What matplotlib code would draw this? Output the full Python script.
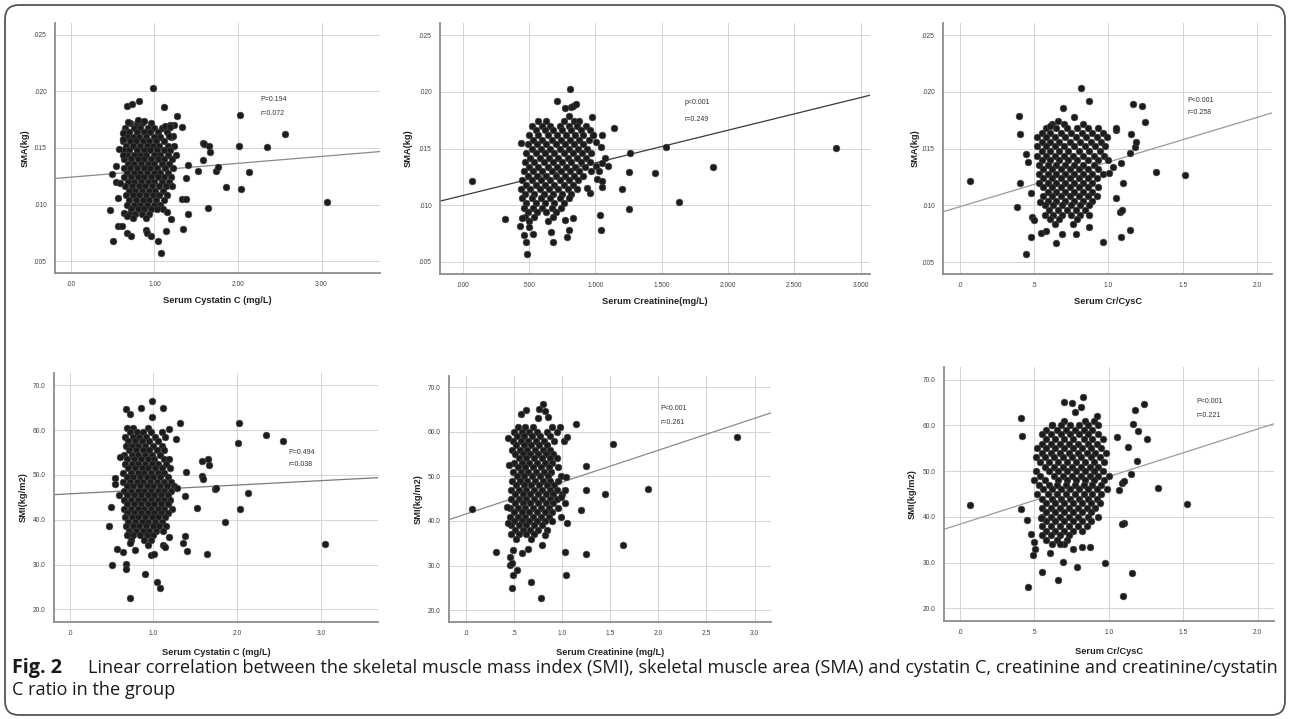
import numpy as np
import matplotlib.pyplot as plt
from matplotlib.patches import FancyBboxPatch
from matplotlib.transforms import IdentityTransform

# ===== data =====
# dense part of each cloud: (y, [x, ...]) ; scattered points: (x, y)

# --- SMA vs serum cystatin C ---
cys_sma_rows = [
    (.0172, [.71, .79, .85, .96]),
    (.0168, [.65, .75, .83, .92, 1.00, 1.09]),
    (.0164, [.63, .70, .79, .87, .95, 1.04, 1.15]),
    (.0160, [.67, .74, .82, .90, .99, 1.07, 1.20]),
    (.0156, [.62, .71, .78, .86, .94, 1.02, 1.11]),
    (.0152, [.66, .74, .83, .91, .98, 1.06, 1.16, 1.23]),
    (.0148, [.63, .70, .79, .87, .95, 1.03, 1.12, 1.19]),
    (.0144, [.67, .75, .83, .90, .99, 1.07, 1.16, 1.26]),
    (.0140, [.64, .72, .80, .88, .96, 1.04, 1.12, 1.21]),
    (.0136, [.68, .76, .84, .92, 1.00, 1.09, 1.17]),
    (.0132, [.63, .71, .79, .87, .95, 1.03, 1.13, 1.22]),
    (.0128, [.67, .75, .83, .91, .99, 1.07, 1.16]),
    (.0124, [.64, .72, .80, .88, .96, 1.04, 1.12, 1.20]),
    (.0120, [.68, .76, .84, .92, 1.00, 1.09, 1.18]),
    (.0116, [.65, .73, .81, .89, .97, 1.05, 1.14, 1.21]),
    (.0112, [.69, .77, .85, .93, 1.01, 1.10]),
    (.0108, [.66, .74, .82, .90, .98, 1.06, 1.15]),
    (.0104, [.70, .78, .86, .94, 1.02, 1.11]),
    (.0100, [.67, .75, .83, .91, .99, 1.07]),
    (.0096, [.72, .80, .88, .96, 1.03]),
    (.0092, [.69, .77, .85, .93]),
    (.0088, [.74, .90]),
]
cys_sma_out = [
    (0.987, .02033), (0.676, .01871), (0.736, .01892), (0.82, .01918), (1.114, .01859),
    (1.273, .01779), (1.325, .01682), (1.233, .0170), (1.126, .01697), (1.19, .0170),
    (1.58, .0154), (1.596, .01534), (1.65, .01517), (1.666, .01463), (1.58, .01392),
    (1.524, .01295), (1.735, .01298), (1.76, .01333), (1.397, .01348), (1.38, .01236),
    (1.326, .0105), (1.376, .01047), (1.405, .00917), (1.345, .00781), (1.643, .00973),
    (1.862, .01156), (2.041, .01141), (2.133, .01289), (2.01, .01517), (2.03, .01788),
    (2.352, .01508), (2.559, .01626), (3.064, .01023), (0.47, .00955), (0.505, .00678),
    (0.561, .00811), (0.609, .00814), (0.676, .00752), (0.72, .00722), (0.895, .00778),
    (0.915, .00752), (0.963, .00722), (1.043, .00678), (1.082, .00574), (1.134, .0077),
    (1.194, .00873), (1.098, .00958), (1.146, .00935), (0.633, .00926), (0.67, .00896),
    (0.49, .01274), (0.545, .01342), (0.537, .0120), (0.589, .01194), (0.629, .0144),
    (0.629, .01635), (0.625, .01576), (0.688, .01729), (1.226, .01608), (1.174, .01602),
    (1.19, .01688), (0.80, .01745), (0.88, .01738), (0.58, .01490), (0.57, .01060),
]

# --- SMA vs serum creatinine ---
cr_sma_rows = [
    (.0174, [.57, .63, .76, .84, .88]),
    (.0170, [.52, .60, .66, .73, .80, .86, .93]),
    (.0166, [.55, .62, .68, .75, .82, .89, .96]),
    (.0162, [.50, .57, .64, .71, .78, .85, .91, .98]),
    (.0158, [.53, .60, .67, .74, .81, .88, .95]),
    (.0154, [.49, .56, .63, .70, .77, .84, .91]),
    (.0150, [.52, .59, .66, .73, .80, .87, .94]),
    (.0146, [.48, .55, .62, .69, .76, .83, .90, .97]),
    (.0142, [.51, .58, .65, .72, .79, .86, .93]),
    (.0138, [.47, .54, .61, .68, .75, .82, .89, .96]),
    (.0134, [.50, .57, .64, .71, .78, .85, .92]),
    (.0130, [.46, .53, .60, .67, .74, .81, .88]),
    (.0126, [.49, .56, .63, .70, .77, .84, .91]),
    (.0122, [.45, .52, .59, .66, .73, .80, .87]),
    (.0118, [.48, .55, .62, .69, .76, .83]),
    (.0114, [.44, .51, .58, .65, .72, .79, .86]),
    (.0110, [.47, .54, .61, .68, .75, .82]),
    (.0106, [.45, .52, .59, .66, .73, .80]),
    (.0102, [.48, .55, .62, .69, .76]),
    (.0098, [.46, .53, .60, .67, .74]),
    (.0094, [.49, .56, .63, .70]),
    (.0090, [.47, .54, .68]),
    (.0086, [.50, .64]),
]
cr_sma_out = [
    (.073, .01216), (.322, .00878), (.44, .01553), (.432, .00817), (.45, .00887),
    (.463, .00741), (.48, .00676), (.487, .00573), (.497, .00805), (.533, .00744),
    (.678, .00676), (.663, .00764), (.774, .00872), (.80, .00784), (.784, .00723),
    (.834, .00884), (.80, .01784), (.813, .01864), (.808, .02025), (.714, .01916),
    (.771, .01855), (.829, .01875), (.852, .0189), (.975, .01776), (1.143, .01679),
    (1.048, .0162), (.982, .0162), (1.005, .01562), (1.043, .01518), (1.07, .01415),
    (1.093, .0135), (1.048, .01371), (1.005, .0135), (1.03, .0130), (.967, .0130),
    (1.01, .0123), (1.048, .0121), (1.05, .01157), (.96, .01107), (.935, .01151),
    (1.035, .00911), (1.045, .00785), (1.20, .01142), (1.25, .01292), (1.26, .01459),
    (1.25, .00969), (1.45, .01283), (1.53, .01518), (1.628, .01025), (1.884, .01336),
    (2.81, .01506),
]

# --- SMA vs serum Cr/CysC ---
ratio_sma_rows = [
    (.0172, [.62, .70, .83]),
    (.0168, [.58, .65, .72, .79, .86, .93]),
    (.0164, [.55, .61, .68, .75, .82, .89, .96]),
    (.0160, [.52, .58, .64, .71, .78, .85, .92, .99]),
    (.0156, [.55, .61, .67, .74, .81, .88, .95]),
    (.0152, [.52, .58, .64, .70, .77, .84, .91, .98]),
    (.0148, [.55, .61, .67, .73, .80, .87, .94]),
    (.0144, [.52, .58, .64, .70, .76, .83, .90, .97]),
    (.0140, [.55, .61, .67, .73, .79, .86, .93, 1.00]),
    (.0136, [.53, .59, .65, .71, .77, .83, .90]),
    (.0132, [.56, .62, .68, .74, .80, .86, .93]),
    (.0128, [.53, .59, .65, .71, .77, .83, .89, .96]),
    (.0124, [.56, .62, .68, .74, .80, .86, .92]),
    (.0120, [.53, .59, .65, .71, .77, .83, .89]),
    (.0116, [.56, .62, .68, .74, .80, .86, .93]),
    (.0112, [.59, .65, .71, .77, .83, .89]),
    (.0108, [.56, .62, .68, .74, .80, .86, .92]),
    (.0104, [.59, .65, .71, .77, .83, .89]),
    (.0100, [.57, .63, .69, .75, .81, .87]),
    (.0096, [.60, .66, .72, .78, .84]),
    (.0092, [.57, .63, .69, .75, .81, .87]),
    (.0088, [.61, .67, .79]),
    (.0084, [.64, .76]),
]
ratio_sma_out = [
    (.067, .01216), (.401, .01787), (.408, .01626), (.404, .01195), (.383, .0099),
    (.448, .01453), (.457, .01386), (.48, .01107), (.482, .0072), (.448, .00573),
    (.487, .00896), (.498, .00873), (.538, .01033), (.545, .00761), (.583, .00779),
    (.648, .0067), (.686, .00747), (.782, .00745), (.87, .00814), (.96, .00676),
    (1.081, .0072), (1.143, .00784), (1.076, .00943), (1.094, .0096), (1.054, .01063),
    (1.099, .01201), (1.085, .01371), (1.031, .01342), (1.002, .01289), (1.143, .01459),
    (1.179, .01518), (1.15, .01629), (1.188, .01562), (1.049, .01664), (1.049, .01685),
    (1.166, .01896), (1.226, .01875), (1.247, .01732), (1.321, .01298), (1.513, .01268),
    (.818, .02031), (.87, .01917), (.693, .01861), (.661, .01744), (.605, .01699),
    (.767, .01776),
]

# --- SMI vs serum cystatin C ---
cys_smi_rows = [
    (60.5, [.68, .76, .93]),
    (59.5, [.72, .80, .88, .97, 1.10]),
    (58.5, [.66, .75, .83, .91, 1.02, 1.14]),
    (57.5, [.70, .78, .86, .95, 1.06]),
    (56.5, [.67, .74, .82, .90, .99, 1.10]),
    (55.5, [.71, .79, .87, .95, 1.04, 1.12]),
    (54.5, [.65, .74, .82, .90, .98, 1.08]),
    (53.5, [.69, .77, .85, .93, 1.01, 1.12, 1.18]),
    (52.5, [.66, .74, .82, .90, .98, 1.06, 1.15]),
    (51.5, [.70, .78, .86, .94, 1.02, 1.10, 1.20]),
    (50.5, [.64, .73, .81, .89, .97, 1.05, 1.13]),
    (49.5, [.68, .76, .84, .92, 1.00, 1.08, 1.17]),
    (48.5, [.64, .72, .80, .88, .96, 1.04, 1.12, 1.21]),
    (47.5, [.68, .76, .84, .92, 1.00, 1.08, 1.16, 1.24]),
    (46.5, [.65, .73, .81, .89, .97, 1.05, 1.13, 1.21]),
    (45.5, [.69, .77, .85, .93, 1.01, 1.09, 1.17]),
    (44.5, [.65, .73, .81, .89, .97, 1.05, 1.13, 1.20]),
    (43.5, [.69, .77, .85, .93, 1.01, 1.09, 1.17]),
    (42.5, [.65, .73, .81, .89, .97, 1.05, 1.13, 1.22]),
    (41.5, [.69, .77, .85, .93, 1.01, 1.09, 1.17]),
    (40.5, [.66, .74, .82, .90, .98, 1.06, 1.14]),
    (39.5, [.70, .78, .86, .94, 1.02, 1.10]),
    (38.5, [.67, .75, .83, .91, .99, 1.07, 1.15]),
    (37.5, [.71, .79, .87, .95, 1.03, 1.11]),
    (36.5, [.68, .76, .84, .92, 1.00]),
    (35.5, [.73, .89, .97]),
]
cys_smi_out = [
    (.984, 66.4), (.853, 64.9), (1.116, 65.0), (.677, 64.7), (.717, 63.7),
    (.988, 62.9), (1.315, 61.7), (2.016, 61.7), (2.343, 58.8), (2.55, 57.6),
    (2.008, 57.1), (1.267, 58.1), (1.187, 60.3), (1.582, 53.2), (1.653, 53.5),
    (1.661, 52.3), (1.582, 49.7), (1.594, 49.2), (1.386, 50.7), (1.375, 45.2),
    (1.514, 42.7), (1.733, 46.9), (1.749, 47.1), (2.124, 46.0), (2.032, 42.4),
    (1.853, 39.6), (1.375, 36.3), (1.347, 34.7), (1.402, 33.0), (1.637, 32.4),
    (3.052, 34.5), (.47, 38.7), (.494, 42.8), (.538, 49.3), (.538, 47.9),
    (.506, 29.8), (.57, 33.4), (.637, 32.8), (.677, 30.2), (.677, 29.0),
    (.721, 22.6), (.90, 27.8), (1.04, 26.1), (1.08, 24.8), (.976, 32.1),
    (1.008, 32.4), (.936, 34.3), (1.116, 34.3), (1.139, 33.8), (1.183, 36.1),
    (.717, 34.8), (.777, 33.2), (.60, 54.0), (.59, 45.5), (1.28, 47.0),
]

# --- SMI vs serum creatinine ---
cr_smi_rows = [
    (61.0, [.54, .62, .70, .90, .98]),
    (60.0, [.50, .58, .66, .74, .84, .95]),
    (59.0, [.53, .61, .69, .77, .88]),
    (58.0, [.49, .57, .65, .73, .81, .92, 1.02]),
    (57.0, [.52, .60, .68, .76, .84]),
    (56.0, [.48, .56, .64, .72, .80, .88]),
    (55.0, [.51, .59, .67, .75, .83, .91]),
    (54.0, [.55, .63, .71, .79, .87, .95]),
    (53.0, [.50, .58, .66, .74, .82, .90]),
    (52.0, [.54, .62, .70, .78, .86, .96]),
    (51.0, [.49, .57, .65, .73, .81, .89]),
    (50.0, [.53, .61, .69, .77, .85, .99]),
    (49.0, [.48, .56, .64, .72, .80, .88, .96]),
    (48.0, [.52, .60, .68, .76, .84, .92]),
    (47.0, [.47, .55, .63, .71, .79, .87, .95]),
    (46.0, [.51, .59, .67, .75, .83, .91, 1.00]),
    (45.0, [.47, .55, .63, .71, .79, .87, .95]),
    (44.0, [.51, .59, .67, .75, .83, .91]),
    (43.0, [.46, .54, .62, .70, .78, .86, .96]),
    (42.0, [.50, .58, .66, .74, .82, .90]),
    (41.0, [.46, .54, .62, .70, .78, .86, .99]),
    (40.0, [.50, .58, .66, .74, .82, .90]),
    (39.0, [.47, .55, .63, .71, .79]),
    (38.0, [.51, .59, .67, .75, .84]),
    (37.0, [.47, .55, .63, .71]),
    (36.0, [.52, .68]),
]
cr_smi_out = [
    (.066, 42.6), (.313, 33.0), (.806, 66.3), (.628, 64.9), (.573, 64.0),
    (.764, 65.0), (.826, 64.7), (.851, 63.4), (.747, 63.0), (1.142, 61.7),
    (1.528, 57.2), (2.82, 58.8), (1.25, 52.4), (1.247, 46.9), (1.451, 46.0),
    (1.892, 47.2), (1.20, 42.5), (1.049, 39.5), (1.632, 34.6), (1.247, 32.5),
    (1.031, 33.1), (1.045, 27.8), (.674, 26.3), (.781, 22.8), (.479, 24.9),
    (.493, 28.0), (.528, 29.1), (.462, 30.2), (.479, 30.5), (.458, 31.9),
    (.49, 33.5), (.583, 32.8), (.642, 33.8), (.441, 39.6), (.424, 43.2),
    (.448, 52.5), (.434, 58.5), (1.052, 58.9), (1.042, 49.9), (1.028, 47.0),
    (1.031, 44.0), (.986, 45.4), (.819, 36.8), (.792, 34.6),
]

# --- SMI vs serum Cr/CysC ---
ratio_smi_rows = [
    (61.0, [.70, .84, .90]),
    (60.0, [.62, .68, .74, .80, .86, .93]),
    (59.0, [.58, .65, .71, .77, .83, .89]),
    (58.0, [.55, .61, .68, .74, .80, .86, .93]),
    (57.0, [.58, .64, .70, .76, .83, .89, .96]),
    (56.0, [.55, .61, .67, .73, .79, .86, .92]),
    (55.0, [.52, .58, .64, .70, .76, .82, .88, .95]),
    (54.0, [.55, .61, .67, .73, .79, .85, .91, .98]),
    (53.0, [.51, .57, .63, .69, .75, .81, .88, .94]),
    (52.0, [.54, .60, .66, .72, .78, .84, .90, .97]),
    (51.0, [.57, .63, .69, .75, .81, .87, .93]),
    (50.0, [.51, .60, .66, .72, .78, .84, .90, .96]),
    (49.0, [.54, .63, .69, .75, .81, .87, .93, 1.00]),
    (48.0, [.50, .57, .66, .72, .78, .84, .90, .97]),
    (47.0, [.53, .60, .65, .71, .77, .83, .89, .95]),
    (46.0, [.56, .62, .68, .74, .80, .86, .92, .99]),
    (45.0, [.52, .59, .65, .71, .77, .83, .89, .95]),
    (44.0, [.55, .62, .68, .74, .80, .86, .92]),
    (43.0, [.58, .64, .70, .76, .82, .88, .94]),
    (42.0, [.55, .61, .67, .73, .79, .85, .91]),
    (41.0, [.58, .64, .70, .76, .82, .88]),
    (40.0, [.55, .61, .67, .73, .79, .86, .93]),
    (39.0, [.58, .64, .70, .76, .82, .88]),
    (38.0, [.55, .61, .67, .73, .79, .85]),
    (37.0, [.58, .64, .70, .76, .82]),
    (36.0, [.55, .61, .67, .73]),
    (35.0, [.58, .65, .72]),
    (34.0, [.62, .70]),
]
ratio_smi_out = [
    (.067, 42.5), (.407, 61.7), (.416, 57.6), (.412, 41.7), (.447, 39.4),
    (.479, 36.2), (.488, 31.6), (.497, 34.6), (.506, 32.9), (.454, 24.7),
    (.55, 27.9), (.655, 26.2), (.694, 30.2), (.787, 29.0), (.971, 29.8),
    (1.092, 22.7), (1.154, 27.8), (1.101, 38.6), (1.087, 38.5), (.70, 65.0),
    (.749, 64.8), (.828, 66.2), (.812, 64.0), (.772, 63.0), (.919, 62.0),
    (.615, 60.0), (1.174, 63.4), (1.235, 64.6), (1.159, 60.4), (1.199, 58.7),
    (1.257, 57.1), (1.056, 57.5), (1.132, 55.2), (1.188, 52.1), (1.15, 49.3),
    (1.331, 46.4), (1.523, 42.8), (1.065, 45.8), (1.089, 47.4), (1.105, 47.9),
    (.541, 39.7), (.604, 32.2), (.673, 34.0), (.758, 32.9), (.821, 33.3),
    (.875, 33.3),
]

# fitted lines (intercept, slope) and stats as printed in the panels
fit_lines = [(0.01242, 0.000612), (0.01086, 0.002882), (0.00989, 0.003936),
             (45.78, 0.98), (41.55, 7.15), (38.4, 10.4)]
stat_text = [("P=0.194", "r=0.072"), ("p<0.001", "r=0.249"), ("P<0.001", "r=0.258"),
             ("P=0.494", "r=0.038"), ("P<0.001", "r=0.261"), ("P<0.001", "r=0.221")]
stat_pos = [(2.27, .01925, .01807), (1.675, .01904, .0176), (1.533, .01928, .01818),
            (2.61, 55.1, 52.3), (2.02, 65.2, 62.0), (1.59, 65.1, 62.05)]

x_labels = ["Serum Cystatin C (mg/L)", "Serum Creatinine(mg/L)", "Serum Cr/CysC",
            "Serum Cystatin C (mg/L)", "Serum Creatinine (mg/L)", "Serum Cr/CysC"]
y_labels = ["SMA(kg)"] * 3 + ["SMI(kg/m2)"] * 3

sma_ticks = [.005, .010, .015, .020, .025]
sma_tick_labels = [".005", ".010", ".015", ".020", ".025"]
smi_ticks = [20, 30, 40, 50, 60, 70]
smi_tick_labels = ["20.0", "30.0", "40.0", "50.0", "60.0", "70.0"]
cys_ticks = [0, 1, 2, 3]
cys_top_labels = [".00", "1.00", "2.00", "3.00"]
cys_bot_labels = [".0", "1.0", "2.0", "3.0"]
cr_ticks = [0, .5, 1, 1.5, 2, 2.5, 3]
cr_top_labels = [".000", ".500", "1.000", "1.500", "2.000", "2.500", "3.000"]
cr_bot_labels = [".0", ".5", "1.0", "1.5", "2.0", "2.5", "3.0"]
ratio_ticks = [0, .5, 1, 1.5, 2]
ratio_labels = [".0", ".5", "1.0", "1.5", "2.0"]


def points(rows, out):
    xs = [x for y, row in rows for x in row] + [p[0] for p in out]
    ys = [y for y, row in rows for x in row] + [p[1] for p in out]
    return np.array(xs), np.array(ys)


W, H = 1290, 719
fig = plt.figure(figsize=(W / 100, H / 100), dpi=100)

# axes boxes in pixels: left, right, top, bottom
boxes = [(55, 380, 23, 273), (440, 870, 23, 274), (943, 1272, 23, 274),
         (54, 378, 373, 622), (449, 771, 376, 622), (944, 1274, 367, 621)]
xlims = [(-0.19, 3.70), (-0.171, 3.07), (-0.113, 2.10),
         (-0.187, 3.68), (-0.174, 3.17), (-0.108, 2.11)]
ylims = [(.00394, .02606), (.00394, .02608), (.00396, .02608),
         (17.17, 72.75), (17.38, 72.47), (17.23, 72.75)]
ylabel_x = [-0.077, -0.063, -0.072, -0.08, -0.083, -0.082]
line_colors = ["#8a8a8a", "#3a3a3a", "#9a9a9a", "#7a7a7a", "#8a8a8a", "#9a9a9a"]

data = [points(cys_sma_rows, cys_sma_out), points(cr_sma_rows, cr_sma_out),
        points(ratio_sma_rows, ratio_sma_out), points(cys_smi_rows, cys_smi_out),
        points(cr_smi_rows, cr_smi_out), points(ratio_smi_rows, ratio_smi_out)]
xticks = [(cys_ticks, cys_top_labels), (cr_ticks, cr_top_labels), (ratio_ticks, ratio_labels),
          (cys_ticks, cys_bot_labels), (cr_ticks, cr_bot_labels), (ratio_ticks, ratio_labels)]

lab_font = "Liberation Sans"
for i in range(6):
    l, r, t, b = boxes[i]
    ax = fig.add_axes([l / W, (H - b) / H, (r - l) / W, (b - t) / H])
    ax.set_xlim(*xlims[i])
    ax.set_ylim(*ylims[i])
    if i < 3:
        ax.set_yticks(sma_ticks, sma_tick_labels)
    else:
        ax.set_yticks(smi_ticks, smi_tick_labels)
    ax.set_xticks(*xticks[i])
    ax.grid(True, color="#d4d4d4", lw=0.7)
    ax.set_axisbelow(True)
    for s in ["top", "right"]:
        ax.spines[s].set_visible(False)
    for s in ["left", "bottom"]:
        ax.spines[s].set_color("#8c8c8c")
        ax.spines[s].set_linewidth(1.3)
    ax.tick_params(length=0, pad=6, labelsize=4.8, labelcolor="#444444")
    for lab in ax.get_xticklabels() + ax.get_yticklabels():
        lab.set_family(lab_font)

    x, y = data[i]
    ax.scatter(x, y, s=24, color="#1c1c1c", edgecolors="#4a4a4a", linewidths=0.4, zorder=3)

    a, k = fit_lines[i]
    xl = np.array(xlims[i])
    ax.plot(xl, a + k * xl, color=line_colors[i], lw=0.9, zorder=2)

    px, py1, py2 = stat_pos[i]
    ax.text(px, py1, stat_text[i][0], fontsize=5, color="#333333", family=lab_font, va="center")
    ax.text(px, py2, stat_text[i][1], fontsize=5, color="#333333", family=lab_font, va="center")

    ax.set_xlabel(x_labels[i], fontsize=6.7, fontweight="bold", family=lab_font, color="#222222")
    ax.set_ylabel(y_labels[i], fontsize=6.7, fontweight="bold", family=lab_font, color="#222222")
    ax.xaxis.set_label_coords(0.5, -0.092 if i < 3 else -0.104)
    ax.yaxis.set_label_coords(ylabel_x[i], 0.5)

# caption
cap_size = 13.1
fig.text(12 / W, 1 - 668 / H, "Fig. 2", fontsize=14.2, fontweight="bold",
         family="Open Sans", color="#1a1a1a", va="center")
fig.text(88 / W, 1 - 668 / H,
         "Linear correlation between the skeletal muscle mass index (SMI), skeletal muscle area (SMA) "
         "and cystatin C, creatinine and creatinine/cystatin",
         fontsize=cap_size, family="Open Sans", color="#1a1a1a", va="center")
fig.text(12 / W, 1 - 690 / H, "C ratio in the group", fontsize=cap_size, family="Open Sans",
         color="#1a1a1a", va="center")

# rounded frame
frame = FancyBboxPatch((5, 4), 1280, 710, boxstyle="round,pad=0,rounding_size=14",
                       fill=False, edgecolor="#555555", lw=1.3, transform=IdentityTransform())
fig.patches.append(frame)

fig.savefig("out.png", dpi=100)
